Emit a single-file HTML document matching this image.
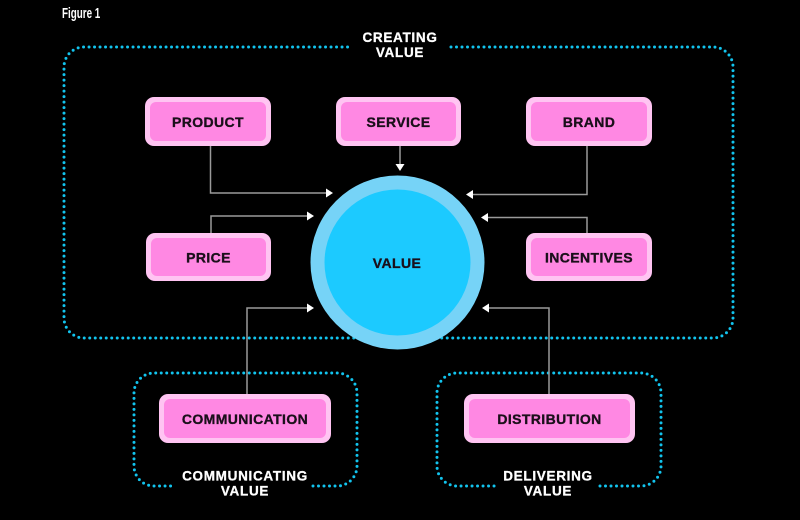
<!DOCTYPE html>
<html><head><meta charset="utf-8"><style>
html,body{margin:0;padding:0;background:#000;}
svg{display:block;}
.lbl{font-family:"Liberation Sans",Arial,sans-serif;font-weight:bold;font-size:14px;fill:#1a0f1a;stroke:#1a0f1a;stroke-width:0.35px;text-anchor:middle;letter-spacing:0.4px;}
.wt{font-family:"Liberation Sans",Arial,sans-serif;font-weight:bold;font-size:13.5px;fill:#fff;stroke:#fff;stroke-width:0.3px;text-anchor:middle;letter-spacing:0.7px;}
.dot{fill:none;stroke:#12c4ee;stroke-width:3;stroke-linecap:round;stroke-dasharray:0 5.5;}
.ln{fill:none;stroke:#9a9a9a;stroke-width:1.5;}
.ah{fill:#fff;}
</style></head><body>
<svg width="800" height="520" viewBox="0 0 800 520" xmlns="http://www.w3.org/2000/svg">
<rect width="800" height="520" fill="#000"/>
<text x="0" y="0" transform="translate(62,18) scale(0.68,1)" font-family="Liberation Sans, Arial, sans-serif" font-size="14.5" font-weight="bold" fill="#fff">Figure 1</text>

<!-- big dotted box -->
<path class="dot" d="M451,47 L713,47 A20,20 0 0 1 733,67 L733,318 A20,20 0 0 1 713,338 L84,338 A20,20 0 0 1 64,318 L64,67 A20,20 0 0 1 84,47 L352,47"/>
<text class="wt" x="400" y="42">CREATING</text>
<text class="wt" x="400" y="57">VALUE</text>

<!-- small dotted boxes -->
<path class="dot" d="M313,486 L337,486 A20,20 0 0 0 357,466 L357,393 A20,20 0 0 0 337,373 L154,373 A20,20 0 0 0 134,393 L134,466 A20,20 0 0 0 154,486 L175,486"/>
<text class="wt" x="245" y="480.5">COMMUNICATING</text>
<text class="wt" x="245" y="495.5">VALUE</text>

<path class="dot" d="M600,486 L641,486 A20,20 0 0 0 661,466 L661,393 A20,20 0 0 0 641,373 L457,373 A20,20 0 0 0 437,393 L437,466 A20,20 0 0 0 457,486 L496,486"/>
<text class="wt" x="548" y="480.5">DELIVERING</text>
<text class="wt" x="548" y="495.5">VALUE</text>

<!-- connectors -->
<path class="ln" d="M210.5,146 L210.5,193 L327,193"/>
<polygon class="ah" points="333,193 326,188.5 326,197.5"/>
<path class="ln" d="M400,146 L400,165"/>
<polygon class="ah" points="400,171 395.5,164 404.5,164"/>
<path class="ln" d="M587,146 L587,194.5 L472,194.5"/>
<polygon class="ah" points="466,194.5 473,190 473,199"/>
<path class="ln" d="M211,233 L211,216 L308,216"/>
<polygon class="ah" points="314,216 307,211.5 307,220.5"/>
<path class="ln" d="M587,233 L587,217.5 L487,217.5"/>
<polygon class="ah" points="481,217.5 488,213 488,222"/>
<path class="ln" d="M247,394 L247,308 L308,308"/>
<polygon class="ah" points="314,308 307,303.5 307,312.5"/>
<path class="ln" d="M549,394 L549,308 L488,308"/>
<polygon class="ah" points="482,308 489,303.5 489,312.5"/>

<!-- circle -->
<circle cx="397.5" cy="262.5" r="87" fill="#76d3f7"/>
<circle cx="397.5" cy="262.5" r="73" fill="#1ccaff"/>
<text class="lbl" x="397" y="268">VALUE</text>

<!-- pink boxes -->
<g>
<rect x="145" y="97" width="126" height="49" rx="9" fill="#ffc4f2"/>
<rect x="150" y="102" width="116" height="39" rx="6" fill="#ff88e3"/>
<text class="lbl" x="208" y="127">PRODUCT</text>

<rect x="336" y="97" width="125" height="49" rx="9" fill="#ffc4f2"/>
<rect x="341" y="102" width="115" height="39" rx="6" fill="#ff88e3"/>
<text class="lbl" x="398.5" y="127">SERVICE</text>

<rect x="526" y="97" width="126" height="49" rx="9" fill="#ffc4f2"/>
<rect x="531" y="102" width="116" height="39" rx="6" fill="#ff88e3"/>
<text class="lbl" x="589" y="127">BRAND</text>

<rect x="146" y="233" width="125" height="48" rx="9" fill="#ffc4f2"/>
<rect x="151" y="238" width="115" height="38" rx="6" fill="#ff88e3"/>
<text class="lbl" x="208.5" y="262.5">PRICE</text>

<rect x="526" y="233" width="126" height="48" rx="9" fill="#ffc4f2"/>
<rect x="531" y="238" width="116" height="38" rx="6" fill="#ff88e3"/>
<text class="lbl" x="589" y="262.5">INCENTIVES</text>

<rect x="159" y="394" width="172" height="49" rx="9" fill="#ffc4f2"/>
<rect x="164" y="399" width="162" height="39" rx="6" fill="#ff88e3"/>
<text class="lbl" x="245" y="424">COMMUNICATION</text>

<rect x="464" y="394" width="171" height="49" rx="9" fill="#ffc4f2"/>
<rect x="469" y="399" width="161" height="39" rx="6" fill="#ff88e3"/>
<text class="lbl" x="549.5" y="424">DISTRIBUTION</text>
</g>
</svg>
</body></html>
